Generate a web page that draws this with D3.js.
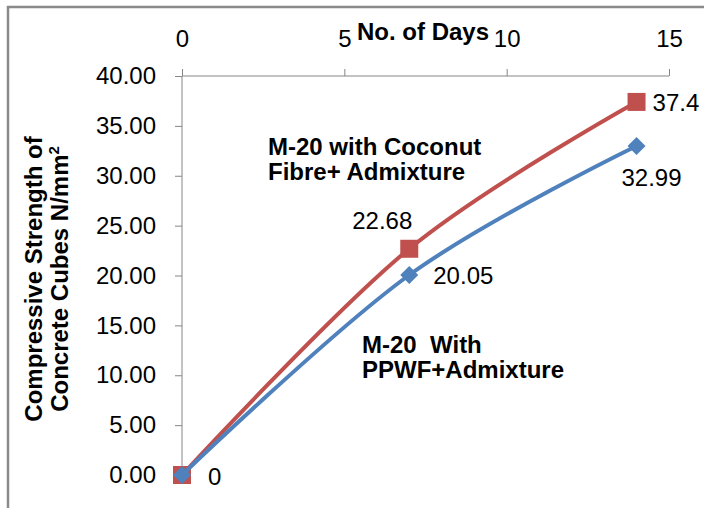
<!DOCTYPE html>
<html>
<head>
<meta charset="utf-8">
<script src="https://cdn.jsdelivr.net/npm/d3@7"></script>
<style>
  body { margin: 0; background: #fff; }
  svg { display: block; font-family: "Liberation Sans", Arial, sans-serif; }
  .axis path, .axis line { stroke: #868686; stroke-width: 1; }
  .axis text { font-size: 24px; fill: #000; }
  .bold { font-weight: bold; font-size: 24px; }
  .val { font-size: 24px; }
</style>
</head>
<body>
<svg id="chart" width="704" height="508"></svg>
<script>
// data
const days = [0, 7, 14];
const coconutStrength = [0, 22.68, 37.4];
const ppwfStrength = [0, 20.05, 32.99];
const coconutLabels = ["", "22.68", "37.4"];
const ppwfLabels = ["0", "20.05", "32.99"];
const xTickValues = [0, 5, 10, 15];
const yTickValues = [0, 5, 10, 15, 20, 25, 30, 35, 40];

const svg = d3.select("#chart");

// outer frame (only top + left edges visible in the picture)
svg.append("rect")
  .attr("x", 8).attr("y", 7)
  .attr("width", 760).attr("height", 560)
  .attr("fill", "none")
  .attr("stroke", "#8a8a8a")
  .attr("stroke-width", 2.5);

const x = d3.scaleLinear().domain([0, 15]).range([182, 669]);
const y = d3.scaleLinear().domain([0, 40]).range([475, 76]);

// x axis on top
svg.append("g")
  .attr("class", "axis")
  .attr("transform", `translate(0,${y(40)})`)
  .call(d3.axisTop(x).tickValues(xTickValues).tickSize(7).tickSizeOuter(0).tickPadding(22))
  .call(g => g.select(".domain").attr("d", `M${x(0)},0H${x(15)}`));

// y axis
svg.append("g")
  .attr("class", "axis")
  .attr("transform", `translate(${x(0)},0)`)
  .call(d3.axisLeft(y).tickValues(yTickValues).tickSize(7).tickSizeOuter(0).tickPadding(19)
    .tickFormat(d3.format(".2f")))
  .call(g => g.select(".domain").attr("d", `M0,${y(40)}V${y(0)}`));

// axis titles
svg.append("text")
  .attr("class", "bold")
  .attr("x", 423).attr("y", 40)
  .attr("text-anchor", "middle")
  .text("No. of Days");

const yTitle = svg.append("text")
  .attr("class", "bold")
  .attr("transform", "translate(42,279) rotate(-90)")
  .attr("text-anchor", "middle");
yTitle.append("tspan").attr("x", 0).attr("y", 0).text("Compressive Strength of");
const line2 = yTitle.append("tspan").attr("x", 0).attr("y", 26);
line2.append("tspan").text("Concrete Cubes N/mm");
line2.append("tspan").attr("dy", -9).style("font-size", "15px").text("2");

const line = d3.line()
  .x(d => x(d[0]))
  .y(d => y(d[1]))
  .curve(d3.curveCardinal.tension(0));

// red series: coconut fibre
const redPts = days.map((d, i) => [d, coconutStrength[i]]);
svg.append("path")
  .datum(redPts)
  .attr("d", line)
  .attr("fill", "none")
  .attr("stroke", "#c0504d")
  .attr("stroke-width", 4);
svg.selectAll(".sq")
  .data(redPts)
  .join("rect")
  .attr("class", "sq")
  .attr("x", d => x(d[0]) - 9)
  .attr("y", d => y(d[1]) - 9)
  .attr("width", 18).attr("height", 18)
  .attr("fill", "#c0504d");

// blue series: PPWF
const bluePts = days.map((d, i) => [d, ppwfStrength[i]]);
svg.append("path")
  .datum(bluePts)
  .attr("d", line)
  .attr("fill", "none")
  .attr("stroke", "#4f81bd")
  .attr("stroke-width", 4);
svg.selectAll(".dia")
  .data(bluePts)
  .join("path")
  .attr("class", "dia")
  .attr("d", "M0,-9L9,0L0,9L-9,0Z")
  .attr("transform", d => `translate(${x(d[0])},${y(d[1])})`)
  .attr("fill", "#4f81bd");

// data labels (offsets from the point)
const redOff = [[0, 0, "start"], [3, -20, "end"], [16, 9, "start"]];
const blueOff = [[26, 10, "start"], [24, 9, "start"], [15, 40, "middle"]];

svg.selectAll(".redlab")
  .data(redPts)
  .join("text")
  .attr("class", "val redlab")
  .attr("x", (d, i) => x(d[0]) + redOff[i][0])
  .attr("y", (d, i) => y(d[1]) + redOff[i][1])
  .attr("text-anchor", (d, i) => redOff[i][2])
  .text((d, i) => coconutLabels[i]);

svg.selectAll(".bluelab")
  .data(bluePts)
  .join("text")
  .attr("class", "val bluelab")
  .attr("x", (d, i) => x(d[0]) + blueOff[i][0])
  .attr("y", (d, i) => y(d[1]) + blueOff[i][1])
  .attr("text-anchor", (d, i) => blueOff[i][2])
  .text((d, i) => ppwfLabels[i]);

// series annotations
const note1 = svg.append("text").attr("class", "bold");
note1.append("tspan").attr("x", 268).attr("y", 155).text("M-20 with Coconut");
note1.append("tspan").attr("x", 268).attr("y", 180).text("Fibre+ Admixture");

const note2 = svg.append("text").attr("class", "bold").style("white-space", "pre");
note2.append("tspan").attr("x", 362).attr("y", 353).text("M-20  With");
note2.append("tspan").attr("x", 362).attr("y", 378).text("PPWF+Admixture");
</script>
</body>
</html>
